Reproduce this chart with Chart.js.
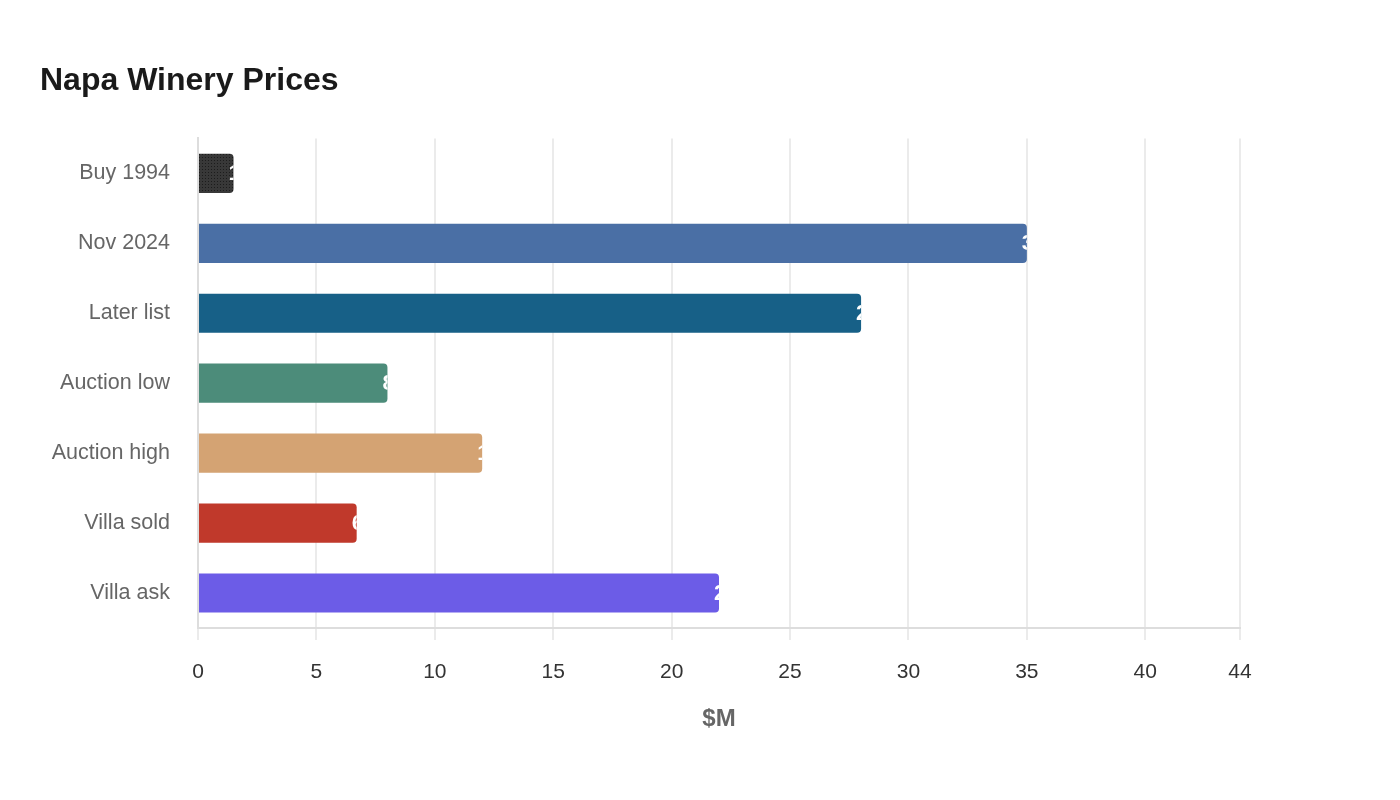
<!DOCTYPE html>
<html>
<head>
<meta charset="utf-8">
<script src="https://cdn.jsdelivr.net/npm/chart.js@4/dist/chart.umd.min.js"></script>
<style>
  html, body { margin: 0; padding: 0; background: #fff; }
  #wrap { width: 1400px; height: 800px; }
</style>
</head>
<body>
<div id="wrap"><canvas id="chart" width="1400" height="800"></canvas></div>
<script>
const categories = ["Buy 1994", "Nov 2024", "Later list", "Auction low", "Auction high", "Villa sold", "Villa ask"];
const prices = [1.5, 35, 28, 8, 12, 6.7, 22];
const xTicks = [0, 5, 10, 15, 20, 25, 30, 35, 40, 44];

// dotted texture for the first bar
function dotPattern() {
  const c = document.createElement("canvas");
  c.width = 3; c.height = 3;
  const g = c.getContext("2d");
  g.fillStyle = "#383838";
  g.fillRect(0, 0, 3, 3);
  g.fillStyle = "#1c1c1c";
  g.fillRect(1, 1, 1, 1);
  return g.createPattern(c, "repeat");
}

const barColors = [dotPattern(), "#4a6fa5", "#176087", "#4c8c7a", "#d4a373", "#c0392b", "#6c5ce7"];

// white value text starting just inside the bar end (mostly lost on the white page)
const endLabels = {
  id: "endLabels",
  afterDatasetsDraw(chart) {
    const ctx = chart.ctx;
    ctx.save();
    ctx.font = "bold 22px 'Liberation Sans', Arial, sans-serif";
    ctx.fillStyle = "#ffffff";
    ctx.textAlign = "left";
    ctx.textBaseline = "middle";
    chart.getDatasetMeta(0).data.forEach((bar, i) => {
      ctx.save();
      ctx.beginPath();
      ctx.rect(bar.base, bar.y - bar.height / 2, bar.x - bar.base, bar.height);
      ctx.clip();
      ctx.fillText(String(prices[i]), bar.x - 5, bar.y + 1);
      ctx.restore();
    });
    ctx.restore();
  }
};

const font = "'Liberation Sans', Arial, sans-serif";

new Chart(document.getElementById("chart"), {
  type: "bar",
  data: {
    labels: categories,
    datasets: [{
      data: prices,
      backgroundColor: barColors,
      borderRadius: 4,
      borderSkipped: "start",
      barPercentage: 0.7,
      categoryPercentage: 0.8
    }]
  },
  options: {
    indexAxis: "y",
    responsive: false,
    animation: false,
    devicePixelRatio: 1,
    layout: { padding: { left: 40, right: 160, top: 62, bottom: 62 } },
    plugins: {
      legend: { display: false },
      tooltip: { enabled: false },
      title: {
        display: true,
        text: "Napa Winery Prices",
        align: "start",
        color: "#1a1a1a",
        font: { family: font, size: 32, weight: "bold" },
        padding: { top: 0, bottom: 38 }
      }
    },
    scales: {
      x: {
        min: 0,
        max: 44,
        afterBuildTicks(axis) {
          axis.ticks = xTicks.map(v => ({ value: v }));
        },
        grid: { color: "#ebebeb", lineWidth: 2, tickLength: 12 },
        border: { color: "#dddddd", width: 2 },
        ticks: {
          color: "#333333",
          padding: 20,
          font: { family: font, size: 21 }
        },
        title: {
          display: true,
          text: "$M",
          color: "#666666",
          padding: { top: 0 },
          font: { family: font, size: 24, weight: "bold" }
        }
      },
      y: {
        grid: { display: false },
        border: { color: "#dddddd", width: 2 },
        afterFit(axis) { axis.width = 158; },
        ticks: {
          color: "#666666",
          padding: 20,
          font: { family: font, size: 21.5 }
        }
      }
    }
  },
  plugins: [endLabels]
});
</script>
</body>
</html>
